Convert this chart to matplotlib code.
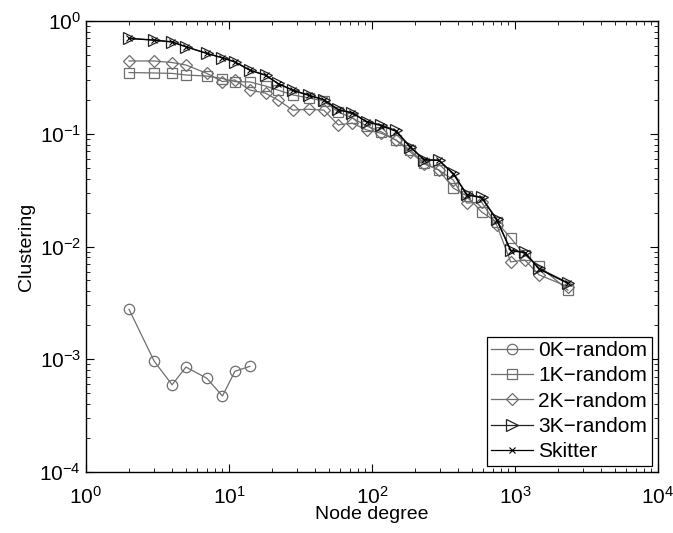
import matplotlib
matplotlib.use('Agg')
import matplotlib.pyplot as plt
from matplotlib.ticker import LogLocator, NullFormatter

plt.rcParams['font.family'] = ['Liberation Sans', 'DejaVu Sans']

# node degree bins (shared by the dK series)
degree = [2, 3, 4, 5, 7, 9, 11, 14, 18, 22, 28, 36, 46, 58, 73, 92, 116, 147,
          185, 232, 293, 370, 460, 585, 745, 933, 1170, 1476, 2346]

# 0K-random only covers low degrees
degree_0k = [2, 3, 4, 5, 7, 9, 11, 14]
clust_0k = [0.00277, 0.00096, 0.000594, 0.000853, 0.000678, 0.000472, 0.000782, 0.000866]

clust_1k = [0.349, 0.346, 0.343, 0.332, 0.325, 0.309, 0.290, 0.288, 0.265, 0.244,
            0.221, 0.208, 0.195, 0.156, 0.138, 0.117, 0.104, 0.088, 0.0718, 0.0550,
            0.0477, 0.0330, 0.0281, 0.0202, 0.0165, 0.0119, 0.0084, 0.0067, 0.0041]

clust_2k = [0.442, 0.442, 0.428, 0.407, 0.343, 0.290, 0.300, 0.244, 0.229, 0.199,
            0.162, 0.165, 0.162, 0.120, 0.124, 0.108, 0.101, 0.088, 0.0689, 0.0540,
            0.0477, 0.0389, 0.0243, 0.0247, 0.0155, 0.0073, 0.0076, 0.0056, 0.0044]

clust_3k = [0.703, 0.678, 0.655, 0.592, 0.517, 0.473, 0.436, 0.368, 0.332, 0.280,
            0.244, 0.221, 0.201, 0.165, 0.154, 0.128, 0.120, 0.107, 0.0768, 0.0591,
            0.0585, 0.0446, 0.0292, 0.0273, 0.0175, 0.0093, 0.0089, 0.0064, 0.00477]

clust_skitter = [0.700, 0.675, 0.650, 0.590, 0.515, 0.470, 0.432, 0.365, 0.330, 0.278,
                 0.242, 0.219, 0.200, 0.163, 0.152, 0.127, 0.118, 0.105, 0.0760, 0.0585,
                 0.0580, 0.0440, 0.0288, 0.0270, 0.0172, 0.0092, 0.0088, 0.0063, 0.00470]

gray = '#6e6e6e'

fig = plt.figure(figsize=(6.73, 5.33), dpi=100)
ax = fig.add_axes([0.1278, 0.1144, 0.8499, 0.8462])

ax.plot(degree_0k, clust_0k, '-o', color=gray, mfc='none', ms=7.5, mew=0.9, lw=0.9,
        label='0K\u2212random')
ax.plot(degree, clust_1k, '-s', color=gray, mfc='none', ms=7, mew=0.9, lw=0.9,
        label='1K\u2212random')
ax.plot(degree, clust_2k, '-D', color=gray, mfc='none', ms=6.5, mew=0.9, lw=0.9,
        label='2K\u2212random')
ax.plot(degree, clust_3k, '->', color='#222222', mfc='none', ms=8, mew=0.9, lw=0.9,
        label='3K\u2212random')
ax.plot(degree, clust_skitter, '-x', color='black', ms=4, mew=0.8, lw=0.9,
        label='Skitter')

ax.set_xscale('log')
ax.set_yscale('log')
ax.set_xlim(1, 1e4)
ax.set_ylim(1e-4, 1)

ax.xaxis.set_major_locator(LogLocator(base=10, numticks=10))
ax.yaxis.set_major_locator(LogLocator(base=10, numticks=10))
ax.xaxis.set_minor_locator(LogLocator(base=10, subs=range(2, 10), numticks=20))
ax.yaxis.set_minor_locator(LogLocator(base=10, subs=range(2, 10), numticks=20))
ax.xaxis.set_minor_formatter(NullFormatter())
ax.yaxis.set_minor_formatter(NullFormatter())

ax.tick_params(which='both', direction='in', top=True, right=True, labelsize=15)
ax.tick_params(which='major', length=6, width=0.8)
ax.tick_params(which='minor', length=3, width=0.6)
ax.tick_params(axis='x', which='major', pad=10)
for s in ax.spines.values():
    s.set_linewidth(1.0)

ax.set_xlabel('Node degree', fontsize=14, labelpad=-1)
ax.set_ylabel('Clustering', fontsize=14, labelpad=3)

leg = ax.legend(loc='lower right', fontsize=15, fancybox=False, framealpha=1,
                edgecolor='black', handlelength=2.0, handletextpad=0.25,
                borderpad=0.22, labelspacing=0.3, borderaxespad=0.3)
leg.get_frame().set_linewidth(0.9)

fig.savefig('out.png', dpi=100)
